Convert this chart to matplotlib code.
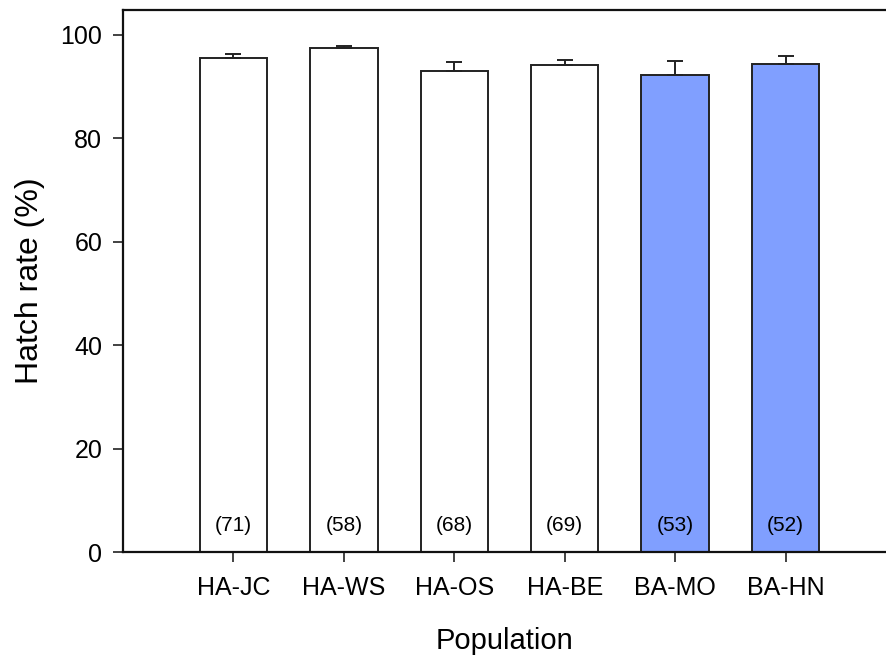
import matplotlib.pyplot as plt

plt.rcParams["font.family"] = ["Liberation Sans", "DejaVu Sans"]

populations = ["HA-JC", "HA-WS", "HA-OS", "HA-BE", "BA-MO", "BA-HN"]
hatch_rate = [95.5, 97.4, 93.0, 94.2, 92.3, 94.3]
sem = [0.7, 0.5, 1.8, 1.0, 2.6, 1.6]
n_clutches = [71, 58, 68, 69, 53, 52]
bar_colors = ["white", "white", "white", "white", "#809fff", "#809fff"]

fig = plt.figure(figsize=(8.86, 6.55), dpi=100)
ax = fig.add_axes([123 / 886, 1 - 552 / 655, 1 - 123 / 886, (552 - 10) / 655])

x = range(len(populations))
ax.bar(x, hatch_rate, width=0.61, color=bar_colors, edgecolor="#222222",
       linewidth=1.4, zorder=2)
ax.errorbar(x, hatch_rate, yerr=[[0] * len(sem), sem], fmt="none",
            ecolor="#222222", elinewidth=1.4, capsize=6, capthick=1.4, zorder=3)
for xi, n in zip(x, n_clutches):
    ax.text(xi, 5.2, f"({n})", ha="center", va="center", fontsize=15, zorder=4)

ax.set_xlim(-1.0, 5.91)
ax.set_ylim(0, 104.8)
ax.set_xticks(list(x))
ax.set_xticklabels(populations)
ax.set_yticks([0, 20, 40, 60, 80, 100])
ax.tick_params(axis="both", labelsize=18, direction="out", length=7,
               width=1.2, color="#222222")
ax.tick_params(axis="x", pad=10)
ax.tick_params(axis="y", pad=8)
ax.spines["right"].set_visible(False)
for s in ["left", "top", "bottom"]:
    ax.spines[s].set_linewidth(1.6)
    ax.spines[s].set_color("#111111")

ax.set_xlabel("Population", fontsize=21, labelpad=20)
ax.set_ylabel("Hatch rate (%)", fontsize=23, labelpad=11)

fig.savefig("out.png", dpi=100, facecolor="white")
